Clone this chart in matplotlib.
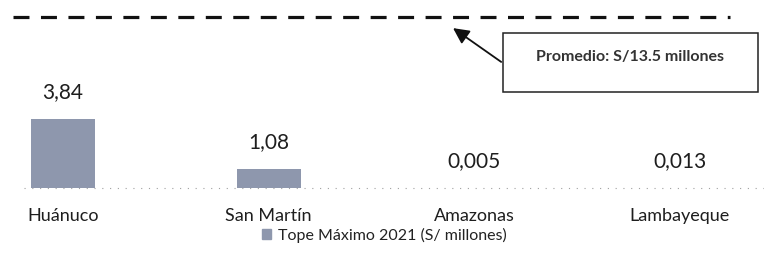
import matplotlib
matplotlib.use("Agg")
import matplotlib.pyplot as plt
from matplotlib.patches import Rectangle, Patch

# datos
regiones = ["Huánuco", "San Martín", "Amazonas", "Lambayeque"]
tope_max = [3.84, 1.08, 0.005, 0.013]
etiquetas = ["3,84", "1,08", "0,005", "0,013"]
linea_promedio = 9.5
texto_promedio = "Promedio: S/13.5 millones"
leyenda = "Tope Máximo 2021 (S/ millones)"

plt.rcParams['font.family'] = ['Lato', 'DejaVu Sans']
color_barra = '#8e97ad'

fig = plt.figure(figsize=(7.64, 2.58), dpi=100)
ax = fig.add_axes([0, 0, 1, 1])
ax.set_xlim(-0.307, 3.41)
ax.set_ylim(-3.89, 10.44)
ax.axis('off')

x = list(range(len(regiones)))
ax.bar(x, tope_max, width=0.31, color=color_barra, zorder=2)

# linea base punteada
ax.plot([-0.19, 3.41], [0, 0], color='#a0a0a0', lw=0.8, ls=(0, (1, 6)), zorder=1)

for xi, v, lab in zip(x, tope_max, etiquetas):
    ax.annotate(lab, (xi, v), xytext=(0, 15), textcoords='offset points',
                ha='center', va='baseline', fontsize=15, color='#1e1e1e')

for xi, r in zip(x, regiones):
    ax.annotate(r, (xi, 0), xytext=(0, -20), textcoords='offset points',
                ha='center', va='center', fontsize=13, color='#1e1e1e')

# linea de promedio
ax.plot([-0.243, 3.245], [linea_promedio, linea_promedio], color='#111111',
        lw=2.3, ls=(0, (5, 3.6)), solid_capstyle='butt', dash_capstyle='butt')

# cuadro del promedio
ax.add_patch(Rectangle((0.658, 0.643), 0.334, 0.229, transform=ax.transAxes,
                       fill=False, ec='#222222', lw=1.1))
ax.text(0.825, 0.779, texto_promedio, transform=ax.transAxes, ha='center',
        va='center', fontsize=11.5, fontweight='bold', color='#333333')
ax.annotate('', xy=(0.593, 0.891), xycoords='axes fraction',
            xytext=(0.656, 0.760), textcoords='axes fraction',
            arrowprops=dict(arrowstyle='-|>', color='#111111', lw=1.3,
                            mutation_scale=24, shrinkA=0, shrinkB=0))

fig.legend(handles=[Patch(color=color_barra)], labels=[leyenda],
           loc='center', bbox_to_anchor=(0.503, 0.088), frameon=False,
           fontsize=11.5, handlelength=0.55, handleheight=0.55, handletextpad=0.4,
           labelcolor='#222222')

plt.savefig('out.png', dpi=100)
